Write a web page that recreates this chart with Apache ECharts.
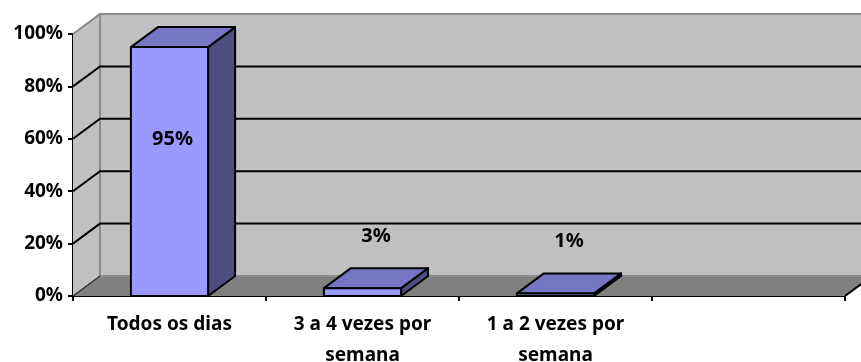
<!DOCTYPE html>
<html>
<head>
<meta charset="utf-8">
<script src="https://cdn.jsdelivr.net/npm/echarts@6/dist/echarts.min.js"></script>
<style>
html, body { margin: 0; padding: 0; background: #fff; }
#main { width: 861px; height: 362px; }
</style>
</head>
<body>
<div id="main"></div>
<script>
//数据
var categories = ['Todos os dias', '3 a 4 vezes por semana', '1 a 2 vezes por semana', ''];
var values = [0.95, 0.03, 0.01, null];
var yTicks = [0, 0.2, 0.4, 0.6, 0.8, 1];

//3d深度偏移 (px)
var DX = 27, DY = -20;
var FONT = 'Noto Sans';

var chart = echarts.init(document.getElementById('main'));

//墙和网格线
function renderWalls(params, api) {
    var bw = api.size([1, 0])[0];
    var x0 = api.coord([0, 0])[0] - bw / 2;
    var x1 = api.coord([categories.length - 1, 0])[0] + bw / 2;
    var y0 = api.coord([0, yTicks[0]])[1];
    var y1 = api.coord([0, yTicks[yTicks.length - 1]])[1];
    var kids = [];
    // back wall
    kids.push({type: 'polygon', shape: {points: [[x0 + DX, y1 + DY], [x1 + DX + 30, y1 + DY], [x1 + DX + 30, y0 + DY], [x0 + DX, y0 + DY]]},
        style: {fill: '#c0c0c0'}});
    // left wall
    kids.push({type: 'polygon', shape: {points: [[x0, y0], [x0, y1], [x0 + DX, y1 + DY], [x0 + DX, y0 + DY]]},
        style: {fill: '#c0c0c0'}});
    // floor
    kids.push({type: 'polygon', shape: {points: [[x0, y0], [x1, y0], [x1 + DX, y0 + DY], [x0 + DX, y0 + DY]]},
        style: {fill: '#808080'}});
    // edges
    var gray = {stroke: '#8a8a8a', lineWidth: 2, fill: null};
    kids.push({type: 'polyline', shape: {points: [[x0, y1], [x0 + DX, y1 + DY], [x1 + DX + 30, y1 + DY]]}, style: gray});
    kids.push({type: 'line', shape: {x1: x0 + DX, y1: y1 + DY, x2: x0 + DX, y2: y0 + DY}, style: gray});
    kids.push({type: 'line', shape: {x1: x0 + DX, y1: y0 + DY, x2: x1 + DX + 30, y2: y0 + DY}, style: gray});
    kids.push({type: 'line', shape: {x1: x0, y1: y0, x2: x0 + DX, y2: y0 + DY}, style: {stroke: '#333', lineWidth: 1.5}});
    kids.push({type: 'line', shape: {x1: x1, y1: y0, x2: x1 + DX, y2: y0 + DY}, style: {stroke: '#000', lineWidth: 2}});
    // gridlines
    for (var i = 1; i < yTicks.length - 1; i++) {
        var y = api.coord([0, yTicks[i]])[1];
        kids.push({type: 'polyline', shape: {points: [[x0, y], [x0 + DX, y + DY], [x1 + DX + 30, y + DY]]},
            style: {stroke: '#000', lineWidth: 2, fill: null}});
    }
    return {type: 'group', children: kids};
}

//柱子
function renderBar(params, api) {
    var v = api.value(1);
    if (v == null || isNaN(v)) return null;
    var bw = api.size([1, 0])[0] * 0.4;
    var c = api.coord([api.value(0), 0]);
    var top = api.coord([api.value(0), v])[1];
    var xa = c[0] - bw / 2, xb = c[0] + bw / 2, yb = c[1];
    var line = {stroke: '#000', lineWidth: 2, lineJoin: 'round'};
    var label;
    if (v > 0.5) {
        label = {x: c[0] + 3, y: api.coord([0, v * 0.63])[1]};
    } else {
        label = {x: c[0] + DX / 2, y: top + DY / 2 - 42};
    }
    return {
        type: 'group',
        children: [
            {type: 'polygon', shape: {points: [[xb, yb], [xb, top], [xb + DX, top + DY], [xb + DX, yb + DY]]},
                style: Object.assign({fill: '#4d4d80'}, line)},
            {type: 'polygon', shape: {points: [[xa, top], [xb, top], [xb + DX, top + DY], [xa + DX, top + DY]]},
                style: Object.assign({fill: '#7676c4'}, line)},
            {type: 'rect', shape: {x: xa, y: top, width: bw, height: yb - top},
                style: Object.assign({fill: '#9999ff'}, line)},
            {type: 'text', x: label.x, y: label.y,
                style: {text: Math.round(v * 100) + '%', fill: '#000', font: 'bold 20px "' + FONT + '"',
                    align: 'center', verticalAlign: 'middle'}}
        ]
    };
}

var barData = [];
for (var i = 0; i < categories.length; i++) {
    barData.push([i, values[i]]);
}

var option = {
    animation: false,
    backgroundColor: '#fff',
    grid: {left: 73, right: 16, top: 34, bottom: 66, outerBoundsMode: 'none', containLabel: false},
    xAxis: {
        type: 'category',
        data: categories,
        axisLine: {show: true, lineStyle: {color: '#000', width: 2}},
        axisTick: {show: true, length: 5, lineStyle: {color: '#000', width: 2}},
        axisLabel: {
            interval: 0, margin: 13, color: '#000', fontFamily: FONT, fontWeight: 'bold', fontSize: 19, lineHeight: 31,
            formatter: function (s) {
                if (s.length > 14) {
                    var k = s.lastIndexOf(' ');
                    return s.slice(0, k) + '\n' + s.slice(k + 1);
                }
                return s;
            }
        },
        splitLine: {show: false}
    },
    yAxis: {
        type: 'value',
        min: 0,
        max: 1,
        interval: 0.2,
        axisLine: {show: true, lineStyle: {color: '#000', width: 2}},
        axisTick: {show: true, length: 5, lineStyle: {color: '#000', width: 2}},
        axisLabel: {
            margin: 10, color: '#000', fontFamily: FONT, fontWeight: 'bold', fontSize: 19,
            formatter: function (v) { return Math.round(v * 100) + '%'; }
        },
        splitLine: {show: false}
    },
    series: [
        {type: 'custom', renderItem: renderWalls, data: [[0, 0]], z: 1, silent: true},
        {type: 'custom', renderItem: renderBar, data: barData, z: 2}
    ]
};
chart.setOption(option);
</script>
</body>
</html>
